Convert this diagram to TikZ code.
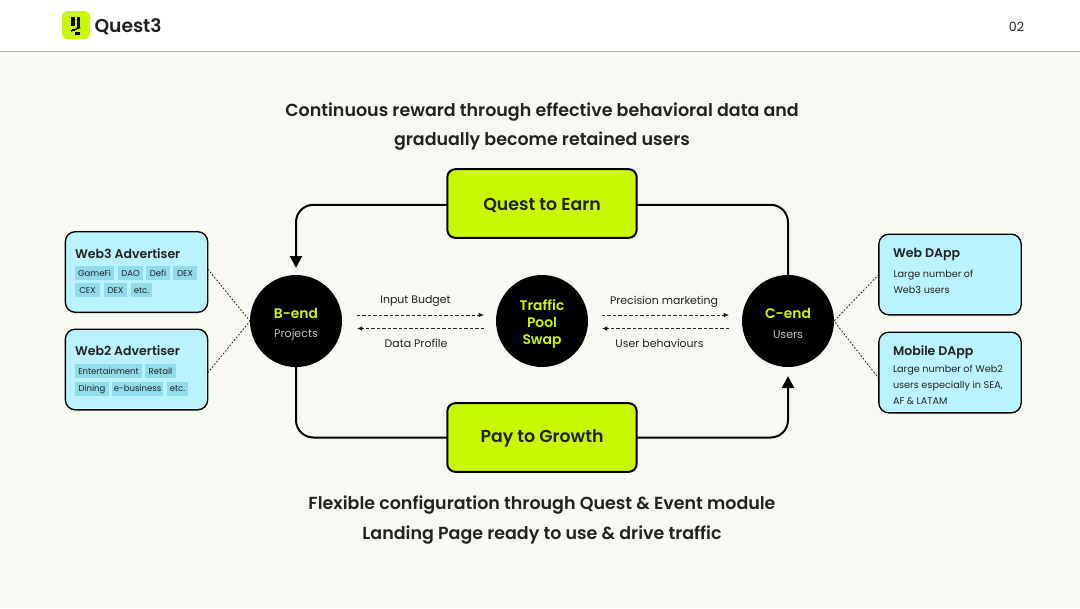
\documentclass[tikz,border=0pt]{standalone}
\usepackage{fontspec}
\setmainfont{Poppins}[BoldFont={Poppins SemiBold}]
\usetikzlibrary{arrows.meta}
\definecolor{pagebg}{HTML}{F9F9F4}
\definecolor{lime}{HTML}{C8F902}
\definecolor{ink}{HTML}{222222}
\definecolor{sky}{HTML}{B9F3FF}
\definecolor{chipfill}{HTML}{8FDCEB}
\definecolor{rulegrey}{HTML}{B3B3AE}
\definecolor{softgrey}{HTML}{C4C4C4}
\tikzset{
  x=0.75pt, y=-0.75pt,
  every node/.style={inner sep=0pt, outer sep=0pt, text=ink},
  headline/.style={font=\fontsize{13.1}{21.8}\selectfont\bfseries, align=center},
  limebox/.style={draw=black, line width=1.5pt, fill=lime, rounded corners=6pt,
    minimum width=142pt, minimum height=51.5pt},
  limelabel/.style={font=\fontsize{13}{16}\selectfont\bfseries},
  hub/.style={circle, fill=black, minimum size=69pt},
  hubtitle/.style={text=lime, font=\fontsize{10.4}{12.8}\selectfont\bfseries, align=center},
  hubsub/.style={text=softgrey, font=\fontsize{8.3}{10}\selectfont},
  infobox/.style={draw=black, line width=1pt, fill=sky, rounded corners=7.5pt,
    minimum width=106.75pt, minimum height=60.5pt},
  boxtitle/.style={anchor=west, font=\fontsize{9.4}{12}\selectfont\bfseries},
  boxtext/.style={anchor=north west, align=left, font=\fontsize{7.25}{12}\selectfont},
  chip/.style={fill=chipfill, minimum height=10.5pt, text height=4.5pt, text depth=0pt,
    font=\fontsize{6.4}{8}\selectfont},
  flow/.style={font=\fontsize{8.2}{10}\selectfont},
  mainline/.style={draw=black, line width=1.5pt, rounded corners=13pt},
  mainarrow/.style={mainline, -{Triangle[length=9pt,width=9pt]}},
  dashflow/.style={draw=ink, line width=0.55pt, dash pattern=on 2.6pt off 1.5pt, -{Latex[length=4pt,width=3.5pt]}},
  dotlink/.style={draw=ink, line width=0.6pt, dash pattern=on 1.3pt off 1.3pt},
}
\begin{document}
\begin{tikzpicture}
\useasboundingbox (0,0) rectangle (1080,608);
% page and header band
\fill[pagebg] (0,0) rectangle (1080,608);
\fill[white] (0,0) rectangle (1080,51);
\draw[rulegrey, line width=0.8pt] (0,51.5) -- (1080,51.5);

% logo mark
\fill[lime, rounded corners=4.5pt] (62,11) rectangle (90,39);
\fill[black] (71,16.5) rectangle (74.8,26);
\fill[black] (76.8,16.5) rectangle (80.3,28);
\draw[black, line width=1pt] (71,31) -- (80.3,27.5);
\fill[black] (71.5,28.5) rectangle (74.5,30.5);
\fill[black] (74.5,31.5) rectangle (80.3,34.8);
\node[anchor=west, font=\fontsize{14}{16}\selectfont\bfseries] (brand) at (94.5,26.5) {Quest3};
\node[font=\fontsize{9.5}{12}\selectfont] (pageno) at (1016.5,27) {02};

% headlines
\node[headline] (toptext) at (542,126.5) {Continuous reward through effective behavioral data and\\gradually become retained users};
\node[headline] (bottomtext) at (542,520) {Flexible configuration through Quest \& Event module\\Landing Page ready to use \& drive traffic};

% central row
\node[hub] (bend) at (296,321) {};
\node[hub] (pool) at (542,321) {};
\node[hub] (cend) at (788,321) {};
\node[hubtitle] (bendt) at (296,313) {B-end};
\node[hubsub] (bends) at (296,335) {Projects};
\node[hubtitle] (cendt) at (788,313) {C-end};
\node[hubsub] (cends) at (788,335) {Users};
\node[hubtitle] (poolt) at (542,324) {Traffic\\Pool\\Swap};

% lime boxes
\node[limebox] (quest) at (542,203.5) {};
\node[limebox] (pay) at (542,437.5) {};
\node[limelabel] (questt) at (542,205.5) {Quest to Earn};
\node[limelabel] (payt) at (542,438.5) {Pay to Growth};

% main loop connectors
\draw[mainarrow, shorten >=7pt*0.75] ([yshift=-1pt]quest.west) -| (bend.north);
\draw[mainline] ([yshift=-1pt]quest.east) -| (cend.north);
\draw[mainline] (bend.south) |- (pay.west);
\draw[mainarrow, shorten >=9pt*0.75] (pay.east) -| (cend.south);

% dashed flows between the hubs
\coordinate (f1a) at (357,315); \coordinate (f1b) at (484,315);
\coordinate (f2a) at (484,328.5); \coordinate (f2b) at (357,328.5);
\coordinate (f3a) at (602,315); \coordinate (f3b) at (729,315);
\coordinate (f4a) at (729,328.5); \coordinate (f4b) at (602,328.5);
\draw[dashflow] (f1a) -- (f1b);
\draw[dashflow] (f2a) -- (f2b);
\draw[dashflow] (f3a) -- (f3b);
\draw[dashflow] (f4a) -- (f4b);
\node[flow] (inputl) at (415.5,300.5) {Input Budget};
\node[flow] (datal) at (416,343.5) {Data Profile};
\node[flow] (precl) at (664,301.5) {Precision marketing};
\node[flow] (userl) at (659.5,343.5) {User behaviours};

% advertiser cards
\node[infobox] (web3) at (136.5,272) {};
\node[infobox] (web2) at (136.5,369.5) {};
\node[boxtitle] (web3t) at (75,253.5) {Web3 Advertiser};
\node[boxtitle] (web2t) at (75,351) {Web2 Advertiser};
\node[chip, minimum width=29.25pt] (c1) at (94.5,273) {GameFi};
\node[chip, minimum width=18.75pt] (c2) at (130.5,273) {DAO};
\node[chip, minimum width=18pt] (c3) at (158,273) {Defi};
\node[chip, minimum width=18pt] (c4) at (185,273) {DEX};
\node[chip, minimum width=18.75pt] (c5) at (87.5,290) {CEX};
\node[chip, minimum width=17.25pt] (c6) at (115.5,290) {DEX};
\node[chip, minimum width=15.75pt] (c7) at (141.5,290) {etc.};
\node[chip, minimum width=50.25pt] (c8) at (108.5,371) {Entertainment};
\node[chip, minimum width=23.25pt] (c9) at (160.5,371) {Retail};
\node[chip, minimum width=25.5pt] (c10) at (92,388.5) {Dining};
\node[chip, minimum width=38.25pt] (c11) at (137.5,388.5) {e-business};
\node[chip, minimum width=15.75pt] (c12) at (177.5,388.5) {etc.};

% application cards
\node[infobox] (webd) at (950,274.5) {};
\node[infobox] (mobd) at (950,372.5) {};
\node[boxtitle] (webdt) at (893,255) {Web DApp};
\node[boxtitle] (mobdt) at (893,352) {Mobile DApp};
\node[boxtext] (webdb) at (893.5,270.5) {Large number of\\Web3 users};
\node[boxtext] (mobdb) at (893,365) {Large number of Web2\\users especially in SEA,\\AF \& LATAM};

% dotted links from cards to hubs
\draw[dotlink] ([yshift=2.25pt]web3.east) -- (bend.west);
\draw[dotlink] ([yshift=-2.6pt]web2.east) -- (bend.west);
\draw[dotlink] (webd.west) -- (cend.east);
\draw[dotlink] ([yshift=-4.5pt]mobd.west) -- (cend.east);
\end{tikzpicture}
\end{document}
